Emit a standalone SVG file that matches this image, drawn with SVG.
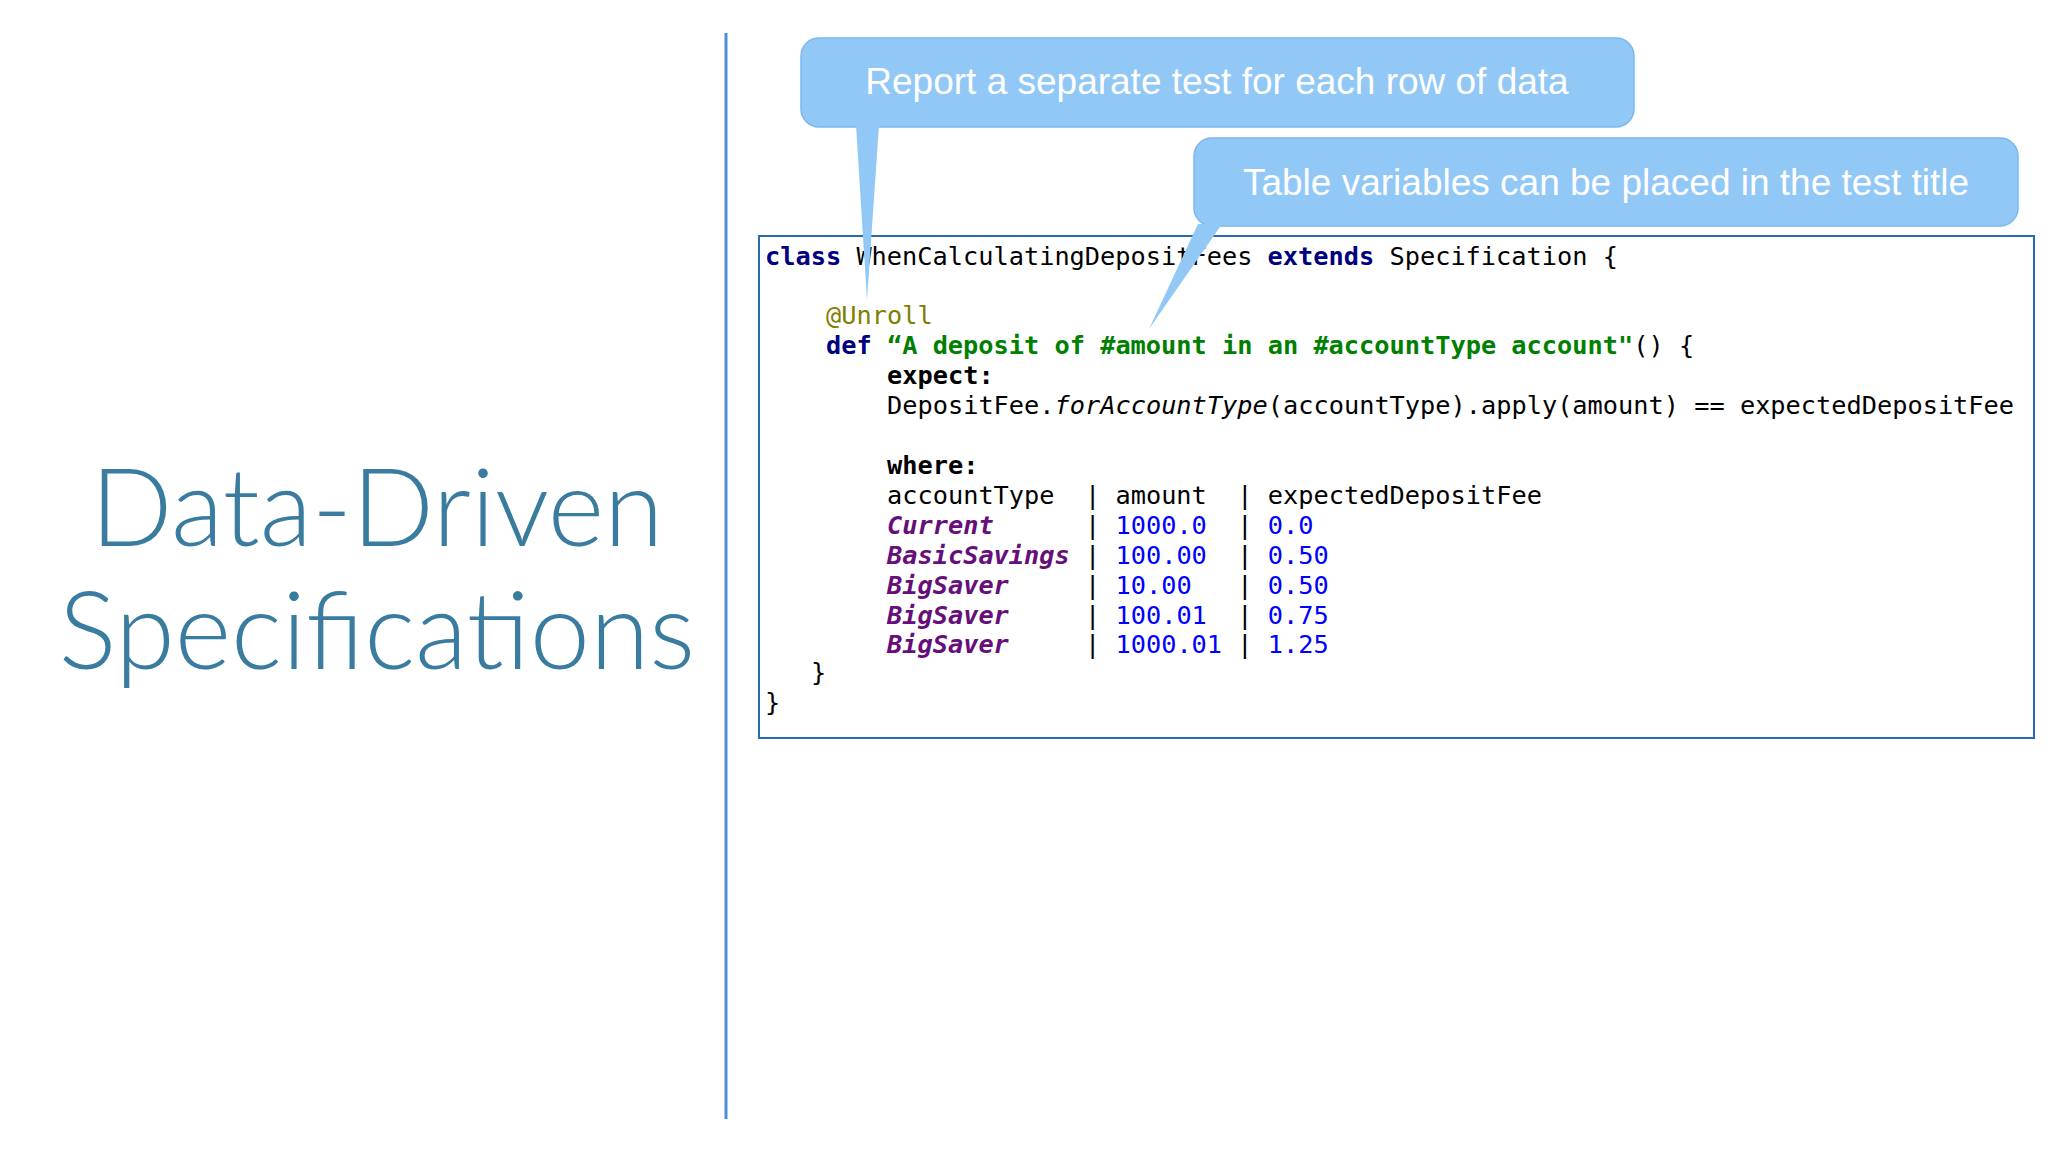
<svg xmlns="http://www.w3.org/2000/svg" width="2048" height="1152" viewBox="0 0 2048 1152">
<style>
.t{font-family:Lato,"Noto Sans",sans-serif;font-weight:300;font-size:108px;fill:#3a7ca0}
.c{font-family:"DejaVu Sans Mono",monospace;font-size:25.3px;fill:#000;white-space:pre}
.k{font-weight:bold;fill:#000080}.s{font-weight:bold;fill:#008000}.a{fill:#808000}
.p{font-weight:bold;font-style:italic;fill:#660e7a}.n{fill:#0000ff}.b{font-weight:bold}
.co{fill:#92c8f6;stroke:#7ab8ee;stroke-width:1.5}
.ct{font-family:"Liberation Sans",Arial,sans-serif;font-size:37px;fill:#fff;text-anchor:middle}
</style>
<rect width="2048" height="1152" fill="#fff"/>
<line x1="726" y1="33" x2="726" y2="1119" stroke="#4a90d9" stroke-width="3"/>
<g id="title"><text class="t" x="377" y="546" text-anchor="middle">Data-Driven</text><text class="t" x="377" y="669" text-anchor="middle">Specifications</text></g>
<g id="code">
<rect x="759" y="236" width="1275" height="502" fill="#fff" stroke="#2a6bb0" stroke-width="2"/>
<text class="c" xml:space="preserve"><tspan x="765" y="265"><tspan class="k">class</tspan> WhenCalculatingDepositFees <tspan class="k">extends</tspan> Specification {</tspan><tspan x="826" y="324" class="a">@Unroll</tspan><tspan x="826" y="354"><tspan class="k">def</tspan> <tspan class="s">“A deposit of #amount in an #accountType account"</tspan>() {</tspan><tspan x="887" y="384" class="b">expect:</tspan><tspan x="887" y="414">DepositFee.<tspan font-style="italic">forAccountType</tspan>(accountType).apply(amount) == expectedDepositFee</tspan><tspan x="887" y="474" class="b">where:</tspan><tspan x="887" y="504">accountType  | amount  | expectedDepositFee</tspan><tspan x="887" y="534"><tspan class="p">Current</tspan>      | <tspan class="n">1000.0</tspan>  | <tspan class="n">0.0</tspan></tspan><tspan x="887" y="564"><tspan class="p">BasicSavings</tspan> | <tspan class="n">100.00</tspan>  | <tspan class="n">0.50</tspan></tspan><tspan x="887" y="594"><tspan class="p">BigSaver</tspan>     | <tspan class="n">10.00</tspan>   | <tspan class="n">0.50</tspan></tspan><tspan x="887" y="624"><tspan class="p">BigSaver</tspan>     | <tspan class="n">100.01</tspan>  | <tspan class="n">0.75</tspan></tspan><tspan x="887" y="653"><tspan class="p">BigSaver</tspan>     | <tspan class="n">1000.01</tspan> | <tspan class="n">1.25</tspan></tspan><tspan x="811" y="681">}</tspan><tspan x="765" y="711">}</tspan></text>
</g>
<g id="callout1">
<rect class="co" x="801" y="38" width="833" height="89" rx="18"/>
<polygon points="856,125 879,125 867,300" fill="#92c8f6"/>
<text class="ct" x="1217" y="94">Report a separate test for each row of data</text>
</g>
<g id="callout2">
<rect class="co" x="1194" y="138" width="824" height="88" rx="18"/>
<polygon points="1198,224 1222,224 1149,329" fill="#92c8f6"/>
<text class="ct" x="1606" y="195">Table variables can be placed in the test title</text>
</g>
</svg>
